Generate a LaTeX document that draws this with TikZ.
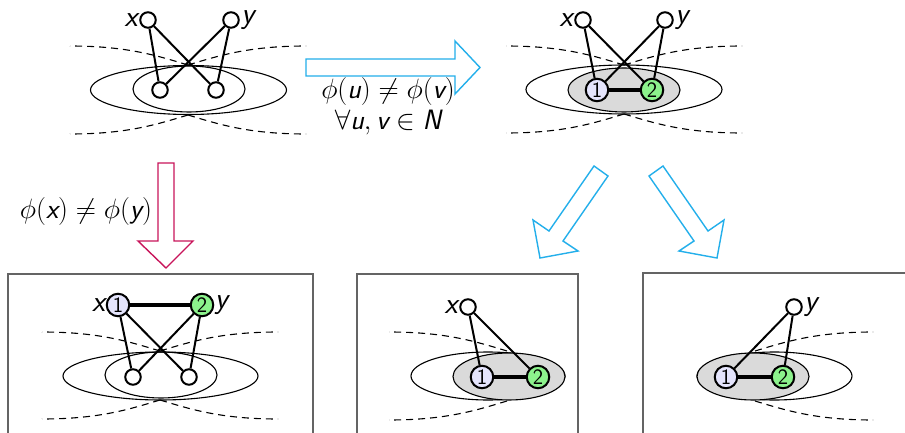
\documentclass[tikz,border=0pt]{standalone}
\usepackage{fix-cm}
\definecolor{lav}{RGB}{228,228,252}
\definecolor{lgreen}{RGB}{140,242,140}
\definecolor{gfill}{RGB}{218,218,218}
\definecolor{arrcyan}{RGB}{35,175,235}
\definecolor{arrred}{RGB}{200,20,90}
\definecolor{framegray}{RGB}{100,100,100}
\newcommand{\sv}[1]{\textsf{\itshape #1}}
\tikzset{
 vtx/.style={circle,draw,line width=2pt,fill=white,minimum size=15.5pt,inner sep=0pt},
 numv/.style={circle,draw,line width=2pt,minimum size=22.5pt,inner sep=0pt,font=\sffamily\fontsize{22}{22}\selectfont},
 one/.style={numv,fill=lav},
 two/.style={numv,fill=lgreen},
 lab/.style={font=\sffamily\itshape\fontsize{30}{32}\selectfont,inner sep=0.5pt},
 edge/.style={line width=2pt},
 bond/.style={line width=4.5pt},
 ell/.style={line width=1.1pt},
 gell/.style={line width=1.1pt,fill=gfill},
 dcurve/.style={line width=1.1pt,dash pattern=on 7pt off 5pt},
 frm/.style={draw=framegray,line width=1.3pt},
 bigarrow/.style={line width=1.4pt,line join=miter},
 mtext/.style={font=\fontsize{28}{31}\selectfont,inner sep=0pt},
 dq/.pic={\draw[dcurve] (0,0) .. controls (-30,-9) and (-60,-19) .. (-118,-19);}
}
\begin{document}
\begin{tikzpicture}[x=1pt,y=-1pt]
\clip (0,0) rectangle (905,433);
\fill[white] (0,0) rectangle (905,433);

% ---------- top-left panel ----------
\draw[ell] (188.5,90) ellipse [x radius=98,y radius=24.5];
\draw[ell] (189,89) ellipse [x radius=56,y radius=23];
\pic at (188,65) {dq};
\pic[xscale=-1] at (188,65) {dq};
\pic[yscale=-1] at (188,115) {dq};
\pic[xscale=-1,yscale=-1] at (188,115) {dq};
\node[vtx,label={[lab,label distance=1pt]left:x}] (tlx) at (148,20) {};
\node[vtx,label={[lab,label distance=1pt]right:y}] (tly) at (231,20) {};
\node[vtx] (tla) at (160,90) {};
\node[vtx] (tlb) at (216,90) {};
\draw[edge] (tlx) -- (tla);
\draw[edge] (tlx) -- (tlb);
\draw[edge] (tly) -- (tla);
\draw[edge] (tly) -- (tlb);

% ---------- top-right panel ----------
\draw[ell] (624,89.5) ellipse [x radius=98,y radius=24.5];
\pic at (624,65) {dq};
\pic[xscale=-1] at (624,65) {dq};
\pic[yscale=-1] at (624,114) {dq};
\pic[xscale=-1,yscale=-1] at (624,114) {dq};
\draw[gell] (624,90) ellipse [x radius=56,y radius=22];
\node[vtx,label={[lab,label distance=1pt]left:x}] (trx) at (583,20) {};
\node[vtx,label={[lab,label distance=1pt]right:y}] (try) at (665,20) {};
\node[one] (tr1) at (597,90) {1};
\node[two] (tr2) at (652,90) {2};
\draw[edge] (trx) -- (tr1);
\draw[edge] (trx) -- (tr2);
\draw[edge] (try) -- (tr1);
\draw[edge] (try) -- (tr2);
\draw[bond] (tr1) -- (tr2);

% ---------- arrows ----------
\draw[bigarrow,draw=arrcyan] (306,59) -- (455,59) -- (455,41) -- (480,67.5) -- (455,94) -- (455,76) -- (306,76) -- cycle;
\draw[bigarrow,draw=arrred] (158,163) -- (174,163) -- (174,241) -- (193,241) -- (166,268) -- (138,241) -- (158,241) -- cycle;
\draw[bigarrow,draw=arrcyan] (594,166) -- (608,176) -- (563,241) -- (578,251) -- (540,258) -- (533,220) -- (549,231) -- cycle;
\draw[bigarrow,draw=arrcyan] (663,166) -- (649,176) -- (694,241) -- (679,251) -- (717,258) -- (724,220) -- (708,231) -- cycle;

\node[mtext,align=center] (m1) at (388,106) {$\phi(\sv{u}) \neq \phi(\sv{v})$\\$\forall \sv{u}, \sv{v} \in \sv{N}$};
\node[mtext] (m3) at (86,212) {$\phi(\sv{x}) \neq \phi(\sv{y})$};

% ---------- frames ----------
\draw[frm] (8,274) rectangle (313,450);
\draw[frm] (357,274) rectangle (578,450);
\draw[frm] (643,273) rectangle (930,450);

% ---------- bottom-left panel ----------
\draw[ell] (160.5,376) ellipse [x radius=97.5,y radius=24];
\draw[ell] (161,375) ellipse [x radius=56,y radius=23];
\pic at (160,351) {dq};
\pic[xscale=-1] at (160,351) {dq};
\pic[yscale=-1] at (160,400) {dq};
\pic[xscale=-1,yscale=-1] at (160,400) {dq};
\node[one,label={[lab,label distance=0pt]left:x}] (bl1) at (118,305) {1};
\node[two,label={[lab,label distance=0pt]right:y}] (bl2) at (202,305) {2};
\node[vtx] (bla) at (133,377) {};
\node[vtx] (blb) at (189,377) {};
\draw[edge] (bl1) -- (bla);
\draw[edge] (bl1) -- (blb);
\draw[edge] (bl2) -- (bla);
\draw[edge] (bl2) -- (blb);
\draw[bond] (bl1) -- (bl2);

% ---------- bottom-middle panel ----------
\draw[ell] (488,376) ellipse [x radius=77,y radius=24];
\pic at (507,351) {dq};
\pic[yscale=-1] at (507,401) {dq};
\draw[gell] (509,376.5) ellipse [x radius=56,y radius=23.5];
\node[vtx,label={[lab,label distance=1pt]left:x}] (bmx) at (468,307) {};
\node[one] (bm1) at (482,377) {1};
\node[two] (bm2) at (538,377) {2};
\draw[edge] (bmx) -- (bm1);
\draw[edge] (bmx) -- (bm2);
\draw[bond] (bm1) -- (bm2);

% ---------- bottom-right panel ----------
\draw[ell] (774.5,376) ellipse [x radius=77.5,y radius=24];
\pic[xscale=-1] at (755,351) {dq};
\pic[xscale=-1,yscale=-1] at (755,401) {dq};
\draw[gell] (753,376.5) ellipse [x radius=56,y radius=23.5];
\node[vtx,label={[lab,label distance=1pt]right:y}] (bry) at (794,307) {};
\node[one] (br1) at (726,377) {1};
\node[two] (br2) at (783,377) {2};
\draw[edge] (bry) -- (br1);
\draw[edge] (bry) -- (br2);
\draw[bond] (br1) -- (br2);
\end{tikzpicture}
\end{document}
